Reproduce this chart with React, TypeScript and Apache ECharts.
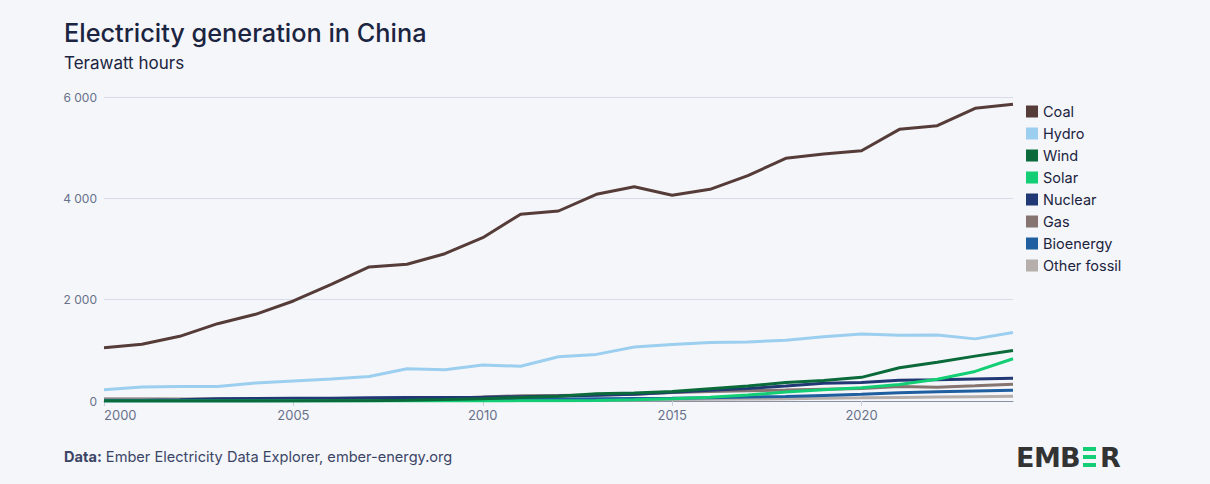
import React, { useEffect, useRef } from "react";
import * as echarts from "echarts";

const years = [2000, 2001, 2002, 2003, 2004, 2005, 2006, 2007, 2008, 2009, 2010, 2011, 2012, 2013, 2014, 2015, 2016, 2017, 2018, 2019, 2020, 2021, 2022, 2023, 2024];
const coal = [1052, 1119, 1277, 1526, 1711, 1974, 2303, 2645, 2698, 2907, 3223, 3685, 3750, 4080, 4229, 4060, 4178, 4447, 4790, 4875, 4940, 5362, 5434, 5777, 5856];
const hydro = [222, 277, 288, 284, 354, 397, 435, 485, 637, 615, 711, 686, 872, 920, 1064, 1114, 1153, 1165, 1199, 1270, 1322, 1300, 1303, 1226, 1354];
const wind = [1, 1, 2, 2, 2, 2, 4, 6, 13, 28, 45, 70, 96, 141, 156, 186, 241, 295, 366, 406, 467, 656, 763, 886, 997];
const solar = [0, 0, 0, 0, 0, 0, 0, 0, 0, 0, 1, 3, 4, 8, 23, 45, 75, 118, 177, 224, 261, 327, 428, 584, 834];
const nuclear = [17, 17, 25, 43, 50, 53, 55, 62, 68, 70, 74, 86, 98, 112, 133, 171, 213, 248, 295, 348, 366, 408, 418, 435, 451];
const gas = [14, 15, 16, 15, 17, 24, 29, 40, 34, 51, 78, 104, 110, 116, 133, 167, 188, 203, 215, 233, 247, 287, 272, 299, 330];
const bioenergy = [2, 2, 2, 2, 2, 5, 7, 10, 14, 20, 25, 32, 39, 45, 49, 53, 64, 80, 91, 111, 132, 164, 182, 197, 210];
const otherFossil = [48, 47, 46, 48, 50, 48, 45, 40, 30, 25, 22, 20, 20, 22, 25, 28, 33, 38, 45, 55, 62, 70, 78, 85, 92];

const seriesNames = ["Coal", "Hydro", "Wind", "Solar", "Nuclear", "Gas", "Bioenergy", "Other fossil"];
const seriesValues = [coal, hydro, wind, solar, nuclear, gas, bioenergy, otherFossil];
const seriesColors = ["#553c38", "#9ccfef", "#0a6a3a", "#13ce74", "#213875", "#857470", "#1f5fa0", "#b5aeab"];

const FONT = "Inter";
const TEXT_DARK = "#1b2440";

export default function App() {
  const ref = useRef<HTMLDivElement>(null);
  useEffect(() => {
    const chart = echarts.init(ref.current!, null, { renderer: "svg" });
    const series = seriesNames
      .map((name, i) => ({
        name,
        type: "line",
        data: years.map((y, j) => [y, seriesValues[i][j]]),
        showSymbol: false,
        symbol: "none",
        lineStyle: { width: 3, color: seriesColors[i] },
        itemStyle: { color: seriesColors[i] },
        z: 10 - i,
      }))
      .reverse();

    chart.setOption({
      animation: false,
      backgroundColor: "#f5f6fa",
      textStyle: { fontFamily: FONT },
      grid: { left: 104, right: 197, top: 97, bottom: 83 },
      legend: {
        orient: "vertical",
        left: 1021,
        top: 99,
        icon: "rect",
        itemWidth: 12,
        itemHeight: 12,
        itemGap: 7,
        data: seriesNames,
        textStyle: { fontFamily: FONT, fontSize: 14.5, color: TEXT_DARK },
      },
      xAxis: {
        type: "value",
        min: 2000,
        max: 2024,
        interval: 5,
        splitLine: { show: false },
        axisLine: { show: true, lineStyle: { color: "#8a91a5", width: 1 } },
        axisTick: { show: true, length: 5, lineStyle: { color: "#c9cedb" } },
        axisLabel: {
          fontFamily: FONT,
          fontSize: 13,
          color: "#68718a",
          margin: 7,
          alignMinLabel: "left",
          showMaxLabel: false,
          formatter: (v: number) => String(v),
        },
      },
      yAxis: {
        type: "value",
        min: 0,
        max: 6000,
        interval: 2000,
        splitLine: { lineStyle: { color: "#d8dce8", width: 1 } },
        axisLine: { show: false },
        axisTick: { show: false },
        axisLabel: {
          fontFamily: FONT,
          fontSize: 12,
          color: "#68718a",
          margin: 7,
          formatter: (v: number) => String(v).replace(/\B(?=(\d{3})+(?!\d))/g, " "),
        },
      },
      graphic: [
        {
          type: "text",
          x: 64,
          y: 32,
          style: { text: "Electricity generation in China", fontFamily: FONT, fontSize: 25.3, fontWeight: 500, fill: TEXT_DARK, textVerticalAlign: "middle" },
        },
        {
          type: "text",
          x: 64,
          y: 62.5,
          style: { text: "Terawatt hours", fontFamily: FONT, fontSize: 17, fontWeight: 400, fill: TEXT_DARK, textVerticalAlign: "middle" },
        },
        {
          type: "text",
          x: 64,
          y: 457,
          style: {
            text: "{b|Data:} Ember Electricity Data Explorer, ember-energy.org",
            fontFamily: FONT,
            fontSize: 14.6,
            fill: "#3b4566",
            textVerticalAlign: "middle",
            rich: {
              b: { fontFamily: FONT, fontSize: 14.6, fontWeight: 700, fill: "#3b4566" },
            },
          },
        },
        { type: "text", x: 1016, y: 457, style: { text: "E", fontFamily: "DejaVu Sans", fontWeight: 700, fontSize: 27, fill: "#333333", textVerticalAlign: "middle" } },
        { type: "text", x: 1034, y: 457, style: { text: "M", fontFamily: "DejaVu Sans", fontWeight: 700, fontSize: 27, fill: "#333333", textVerticalAlign: "middle" } },
        { type: "text", x: 1060, y: 457, style: { text: "B", fontFamily: "DejaVu Sans", fontWeight: 700, fontSize: 27, fill: "#333333", textVerticalAlign: "middle" } },
        { type: "rect", shape: { x: 1083, y: 447, width: 13, height: 4 }, style: { fill: "#13ce74" } },
        { type: "rect", shape: { x: 1083, y: 455, width: 13, height: 4 }, style: { fill: "#13ce74" } },
        { type: "rect", shape: { x: 1083, y: 463, width: 13, height: 4 }, style: { fill: "#13ce74" } },
        { type: "text", x: 1100, y: 457, style: { text: "R", fontFamily: "DejaVu Sans", fontWeight: 700, fontSize: 27, fill: "#333333", textVerticalAlign: "middle" } },
      ],
      series,
    });
    return () => chart.dispose();
  }, []);
  return (
    <div
      ref={ref}
      style={{ position: "fixed", left: 0, top: 0, width: 1210, height: 484, background: "#f5f6fa" }}
    />
  );
}
